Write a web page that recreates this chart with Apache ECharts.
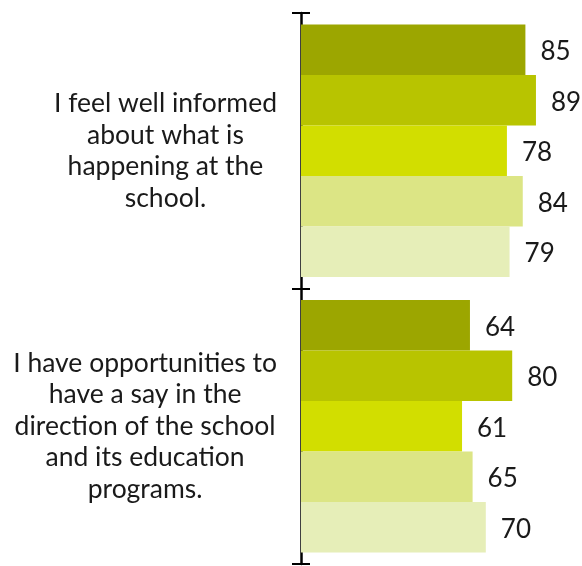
<!DOCTYPE html>
<html>
<head>
<meta charset="utf-8">
<script src="https://cdn.jsdelivr.net/npm/echarts@6/dist/echarts.min.js"></script>
<style>
  html, body { margin: 0; padding: 0; background: #fff; }
  #chart { width: 582px; height: 566px; }
</style>
</head>
<body>
<div id="chart"></div>
<script>
// Survey statements (y axis) and the percentage agreeing for each of five groups
const categories = [
  'I feel well informed\nabout what is\nhappening at the\nschool.',
  'I have opportunities to\nhave a say in the\ndirection of the school\nand its education\nprograms.'
];
const group1 = [85, 64];
const group2 = [89, 80];
const group3 = [78, 61];
const group4 = [84, 65];
const group5 = [79, 70];

const seriesValues = [group1, group2, group3, group4, group5];
const seriesColors = ['#9ca600', '#b8c400', '#d2de00', '#dce585', '#e6eeb8'];

// wrap each line in a centred rich token so lines centre within a right-anchored block
function centredLines(text) {
  return text.split('\n').map(l => '{c|' + l + '}').join('\n');
}

const chart = echarts.init(document.getElementById('chart'));
chart.setOption({
  animation: false,
  grid: { left: 301, right: 17, top: 13, bottom: 2, containLabel: false },
  xAxis: { type: 'value', min: 0, max: 100, show: false },
  yAxis: [
    {
      type: 'category',
      inverse: true,
      data: categories,
      axisLine: { show: true, lineStyle: { color: '#000', width: 2.5 } },
      axisTick: { show: true, length: 9, lineStyle: { color: '#000', width: 2 } },
      axisLabel: {
        margin: 24,
        formatter: centredLines,
        rich: {
          c: { fontFamily: 'Lato', fontSize: 26.5, color: '#1a1a1a', align: 'center', lineHeight: 31.5 }
        }
      },
      splitLine: { show: false }
    },
    {
      // mirror of the ticks on the inner side of the axis
      type: 'category',
      inverse: true,
      position: 'left',
      data: categories,
      axisLine: { show: false },
      axisTick: { show: true, inside: true, length: 9, lineStyle: { color: '#000', width: 2 } },
      axisLabel: { show: false },
      splitLine: { show: false }
    }
  ],
  series: seriesValues.map((vals, i) => ({
    type: 'bar',
    data: vals,
    barGap: '0%',
    barCategoryGap: '8.4%',
    itemStyle: { color: seriesColors[i] },
    label: {
      show: true,
      position: 'right',
      distance: 15,
      offset: [0, 2],
      fontFamily: 'Lato',
      fontSize: 26,
      color: '#1a1a1a'
    }
  }))
});
</script>
</body>
</html>
